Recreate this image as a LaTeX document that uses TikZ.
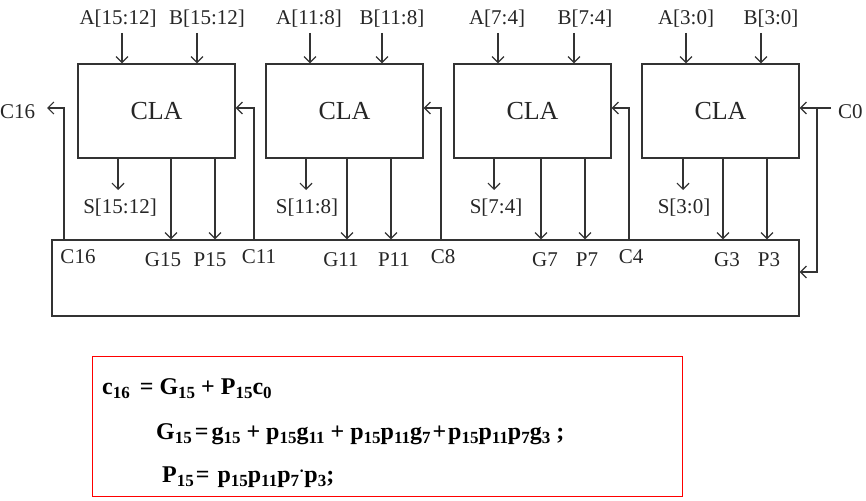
\documentclass[tikz,border=0pt]{standalone}
\usepackage{fontspec}
\setmainfont{Liberation Serif}
\usetikzlibrary{arrows.meta}
\newcommand\lo[1]{\raisebox{-4pt}{\fontsize{17}{17}\selectfont #1}}
\begin{document}
\begin{tikzpicture}[x=1pt,y=-1pt,
  wire/.style={draw=black!80, line width=1.2pt},
  arr/.style={wire, -{Straight Barb[length=6pt,width=12pt]}},
  cla/.style={draw=black!80, line width=1.2pt, minimum width=157pt, minimum height=94pt, inner sep=0pt, font=\fontsize{26}{26}\selectfont, text=black!85},
  lbl/.style={inner sep=0pt, anchor=base, font=\fontsize{21}{21}\selectfont, text=black!85},
  eq/.style={inner sep=0pt, anchor=base west, font=\fontsize{24}{24}\selectfont\bfseries}]
\useasboundingbox (0,0) rectangle (866,500);
% bottom box
\node[draw=black!80, line width=1.2pt, minimum width=747pt, minimum height=76pt, inner sep=0pt] (bot) at (425.5,278) {};
% CLA blocks
\foreach \n/\cx/\ax/\al/\bx/\bl/\sx/\sl/\gx/\gl/\px/\pl/\r/\k in
  {1/156.5/122/118/197/207/118/120/171/163/215/210/15:12/15,
   2/344.5/310/309/382/392/306/307/347/341/391/394/11:8/11,
   3/532.5/498/497/574/585/494/496/541/545/585/587/7:4/7,
   4/720.5/686/686/761/771/683/684/723/727/767/769/3:0/3}{
  \node[cla] (c\n) at (\cx,111) {CLA};
  \node[lbl] (A\n) at (\al,25) {A[\r]};
  \node[lbl] (B\n) at (\bl,25) {B[\r]};
  \coordinate (a\n) at (\ax,33);
  \coordinate (b\n) at (\bx,33);
  \draw[arr] (a\n) -- (a\n |- c\n.north);
  \draw[arr] (b\n) -- (b\n |- c\n.north);
  \coordinate (s\n) at (\sx,190);
  \draw[arr] (s\n |- c\n.south) -- (s\n);
  \node[lbl] (S\n) at (\sl,213) {S[\r]};
  \coordinate (g\n) at (\gx,200);
  \coordinate (p\n) at (\px,200);
  \draw[arr] (g\n |- c\n.south) -- (g\n |- bot.north);
  \draw[arr] (p\n |- c\n.south) -- (p\n |- bot.north);
  \node[lbl] (G\n) at (\gl,266) {G\k};
  \node[lbl] (P\n) at (\pl,266) {P\k};
}
% carries
\node[lbl, anchor=base west] (C16out) at (0,118) {C16};
\coordinate (k16) at (64,108);
\coordinate (k16end) at (47,108);
\draw[arr] (k16 |- bot.north) -- (k16) -- (k16end);
\foreach \n/\x in {1/254,2/441,3/629}{
  \coordinate (k\n) at (\x,108);
  \draw[arr] (k\n |- bot.north) -- (k\n) -- (k\n -| c\n.east);
}
\node[lbl] (lC16) at (78,263) {C16};
\node[lbl] (lC11) at (259,263) {C11};
\node[lbl] (lC8) at (443,263) {C8};
\node[lbl] (lC4) at (631,263) {C4};
% C0
\node[lbl, anchor=base west] (C0in) at (838,118) {C0};
\coordinate (c0a) at (831,108);
\coordinate (c0j) at (817,108);
\coordinate (c0k) at (817,272);
\draw[arr] (c0a) -- (c0a -| c4.east);
\draw[arr] (c0j) -- (c0k) -- (c0k -| bot.east);
% formula box
\node[draw=red, line width=1pt, minimum width=590pt, minimum height=140pt, inner sep=0pt, anchor=north west] (fbox) at (92,356) {};
\node[eq] (e1) at (102,394) {c\lo{16}\hspace{10pt}= G\lo{15} + P\lo{15}c\lo{0}};
\node[eq] (e2) at (156,439) {G\lo{15}\hspace{3pt}=\hspace{3pt}g\lo{15} + p\lo{15}g\lo{11} + p\lo{15}p\lo{11}g\lo{7}\hspace{2pt}+\hspace{2pt}p\lo{15}p\lo{11}p\lo{7}g\lo{3} ;};
\node[eq] (e3) at (162,482) {P\lo{15}\hspace{2pt}=\hspace{8pt}p\lo{15}p\lo{11}p\lo{7}\raisebox{6pt}{\fontsize{16}{16}\selectfont·}p\lo{3};};
\end{tikzpicture}
\end{document}
